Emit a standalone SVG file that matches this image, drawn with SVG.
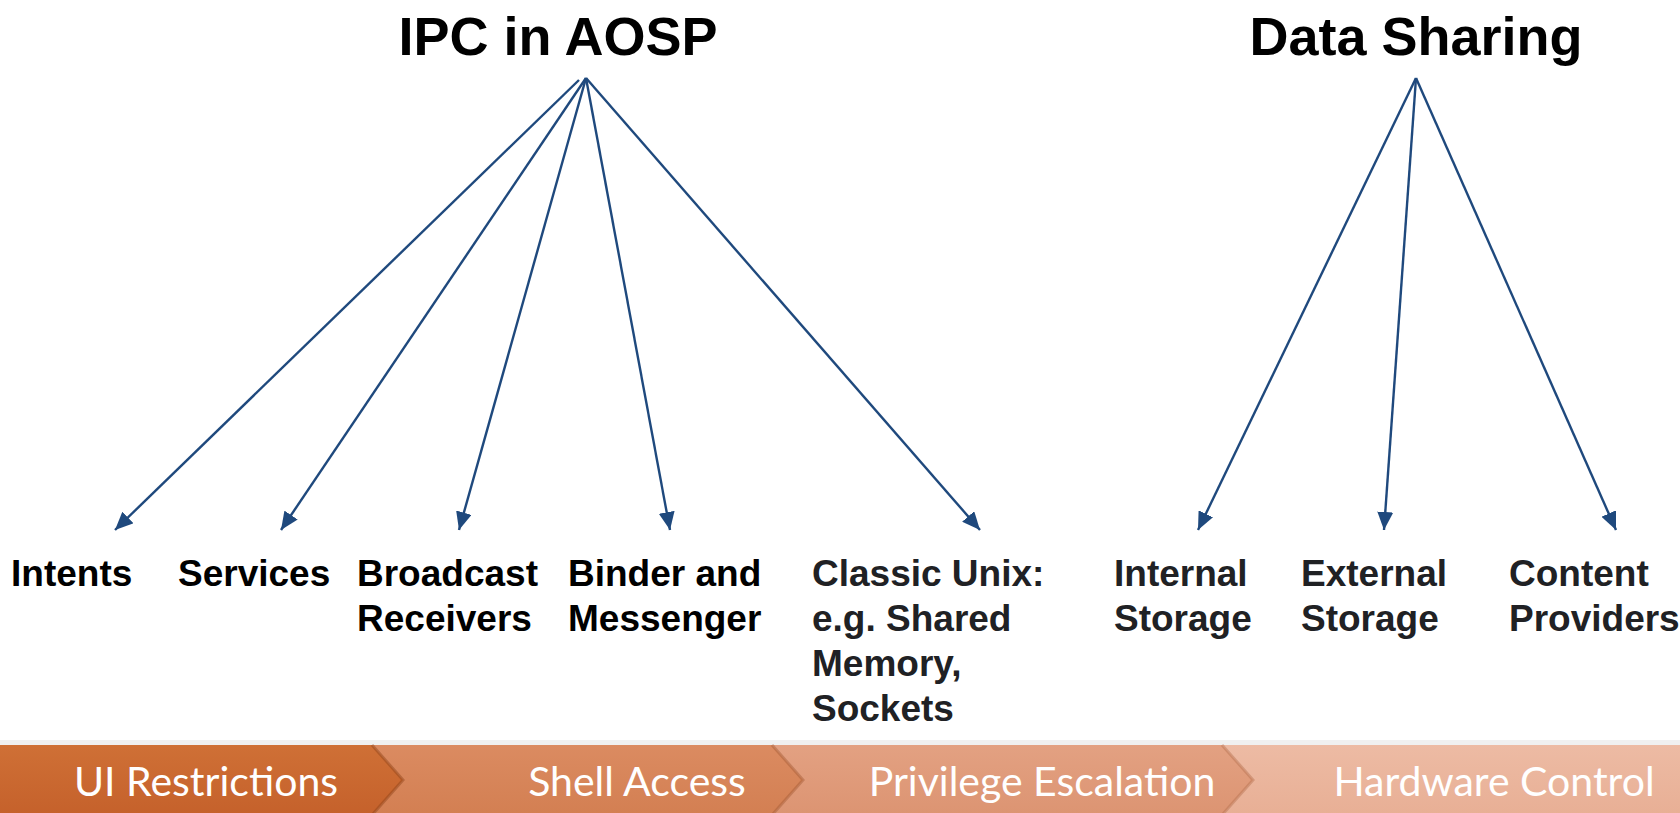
<svg xmlns="http://www.w3.org/2000/svg" width="1680" height="813" viewBox="0 0 1680 813">
<defs>
<style>
.title{font-family:"Liberation Sans",Arial,sans-serif;font-weight:bold;font-size:54px;fill:#000;text-anchor:middle}
.lbl{font-family:"Liberation Sans",Arial,sans-serif;font-weight:bold;font-size:37px;fill:#000}
.lbl2{font-family:"Liberation Sans",Arial,sans-serif;font-weight:bold;font-size:37px;fill:#202124}
.conn{stroke:#1F497D;stroke-width:2.4;fill:none;marker-end:url(#ah)}
.bar{font-family:Lato,"Open Sans",sans-serif;font-size:41px;fill:#fff;text-anchor:middle}
</style>
<marker id="ah" markerUnits="userSpaceOnUse" markerWidth="20" markerHeight="16" refX="18" refY="8" orient="auto">
<path d="M0,0 L18,8 L0,16 Z" fill="#1F497D"/>
</marker>
<linearGradient id="g1" x1="0" y1="0" x2="0" y2="1"><stop offset="0" stop-color="#CF7036"/><stop offset="1" stop-color="#C5612B"/></linearGradient>
<linearGradient id="g2" x1="0" y1="0" x2="0" y2="1"><stop offset="0" stop-color="#DB8B61"/><stop offset="1" stop-color="#D37F52"/></linearGradient>
<linearGradient id="g3" x1="0" y1="0" x2="0" y2="1"><stop offset="0" stop-color="#E3A182"/><stop offset="1" stop-color="#DC9472"/></linearGradient>
<linearGradient id="g4" x1="0" y1="0" x2="0" y2="1"><stop offset="0" stop-color="#EDBBA4"/><stop offset="1" stop-color="#E8AF95"/></linearGradient>
</defs>
<rect width="1680" height="813" fill="#fff"/>

<g id="ipc-title"><text class="title" x="558" y="55">IPC in AOSP</text></g>
<g id="data-title"><text class="title" x="1416" y="55">Data Sharing</text></g>

<g id="connectors">
<line class="conn" x1="579" y1="80" x2="115" y2="530"/>
<line class="conn" x1="586" y1="78" x2="281" y2="530"/>
<line class="conn" x1="586" y1="78" x2="459" y2="530"/>
<line class="conn" x1="586" y1="78" x2="670" y2="530"/>
<line class="conn" x1="586" y1="78" x2="980" y2="530"/>
<line class="conn" x1="1416" y1="78" x2="1198" y2="530"/>
<line class="conn" x1="1416" y1="78" x2="1384" y2="530"/>
<line class="conn" x1="1416" y1="78" x2="1616" y2="530"/>
</g>

<g id="intents"><text class="lbl" x="11" y="586">Intents</text></g>
<g id="services"><text class="lbl" x="178" y="586">Services</text></g>
<g id="broadcast"><text class="lbl" x="357" y="586">Broadcast</text><text class="lbl" x="357" y="631">Receivers</text></g>
<g id="binder"><text class="lbl" x="568" y="586">Binder and</text><text class="lbl" x="568" y="631">Messenger</text></g>
<g id="classic"><text class="lbl2" x="812" y="586">Classic Unix:</text><text class="lbl2" x="812" y="631">e.g. Shared</text><text class="lbl2" x="812" y="676">Memory,</text><text class="lbl2" x="812" y="721">Sockets</text></g>
<g id="internal"><text class="lbl2" x="1114" y="586">Internal</text><text class="lbl2" x="1114" y="631">Storage</text></g>
<g id="external"><text class="lbl2" x="1301" y="586">External</text><text class="lbl2" x="1301" y="631">Storage</text></g>
<g id="content"><text class="lbl2" x="1509" y="586">Content</text><text class="lbl2" x="1509" y="631">Providers</text></g>

<g id="process-bar">
<rect x="0" y="740" width="1680" height="5" fill="#F0F0F0"/>
<rect x="1200" y="745" width="480" height="70" fill="url(#g4)"/>
<polygon points="760,745 1222,745 1253,780 1222,815 760,815" fill="url(#g3)"/>
<polyline points="1222,745 1253,780 1222,815" fill="none" stroke="#B5704F" stroke-opacity="0.45" stroke-width="3"/>
<polygon points="360,745 772,745 803,780 772,815 360,815" fill="url(#g2)"/>
<polyline points="772,745 803,780 772,815" fill="none" stroke="#A55A35" stroke-opacity="0.45" stroke-width="3"/>
<polygon points="0,745 372,745 403,780 372,815 0,815" fill="url(#g1)"/>
<polyline points="372,745 403,780 372,815" fill="none" stroke="#8E4318" stroke-opacity="0.45" stroke-width="3"/>
<text class="bar" x="206" y="796">UI Restrictions</text>
<text class="bar" x="637" y="796">Shell Access</text>
<text class="bar" x="1042" y="796">Privilege Escalation</text>
<text class="bar" x="1494" y="796">Hardware Control</text>
</g>
</svg>
